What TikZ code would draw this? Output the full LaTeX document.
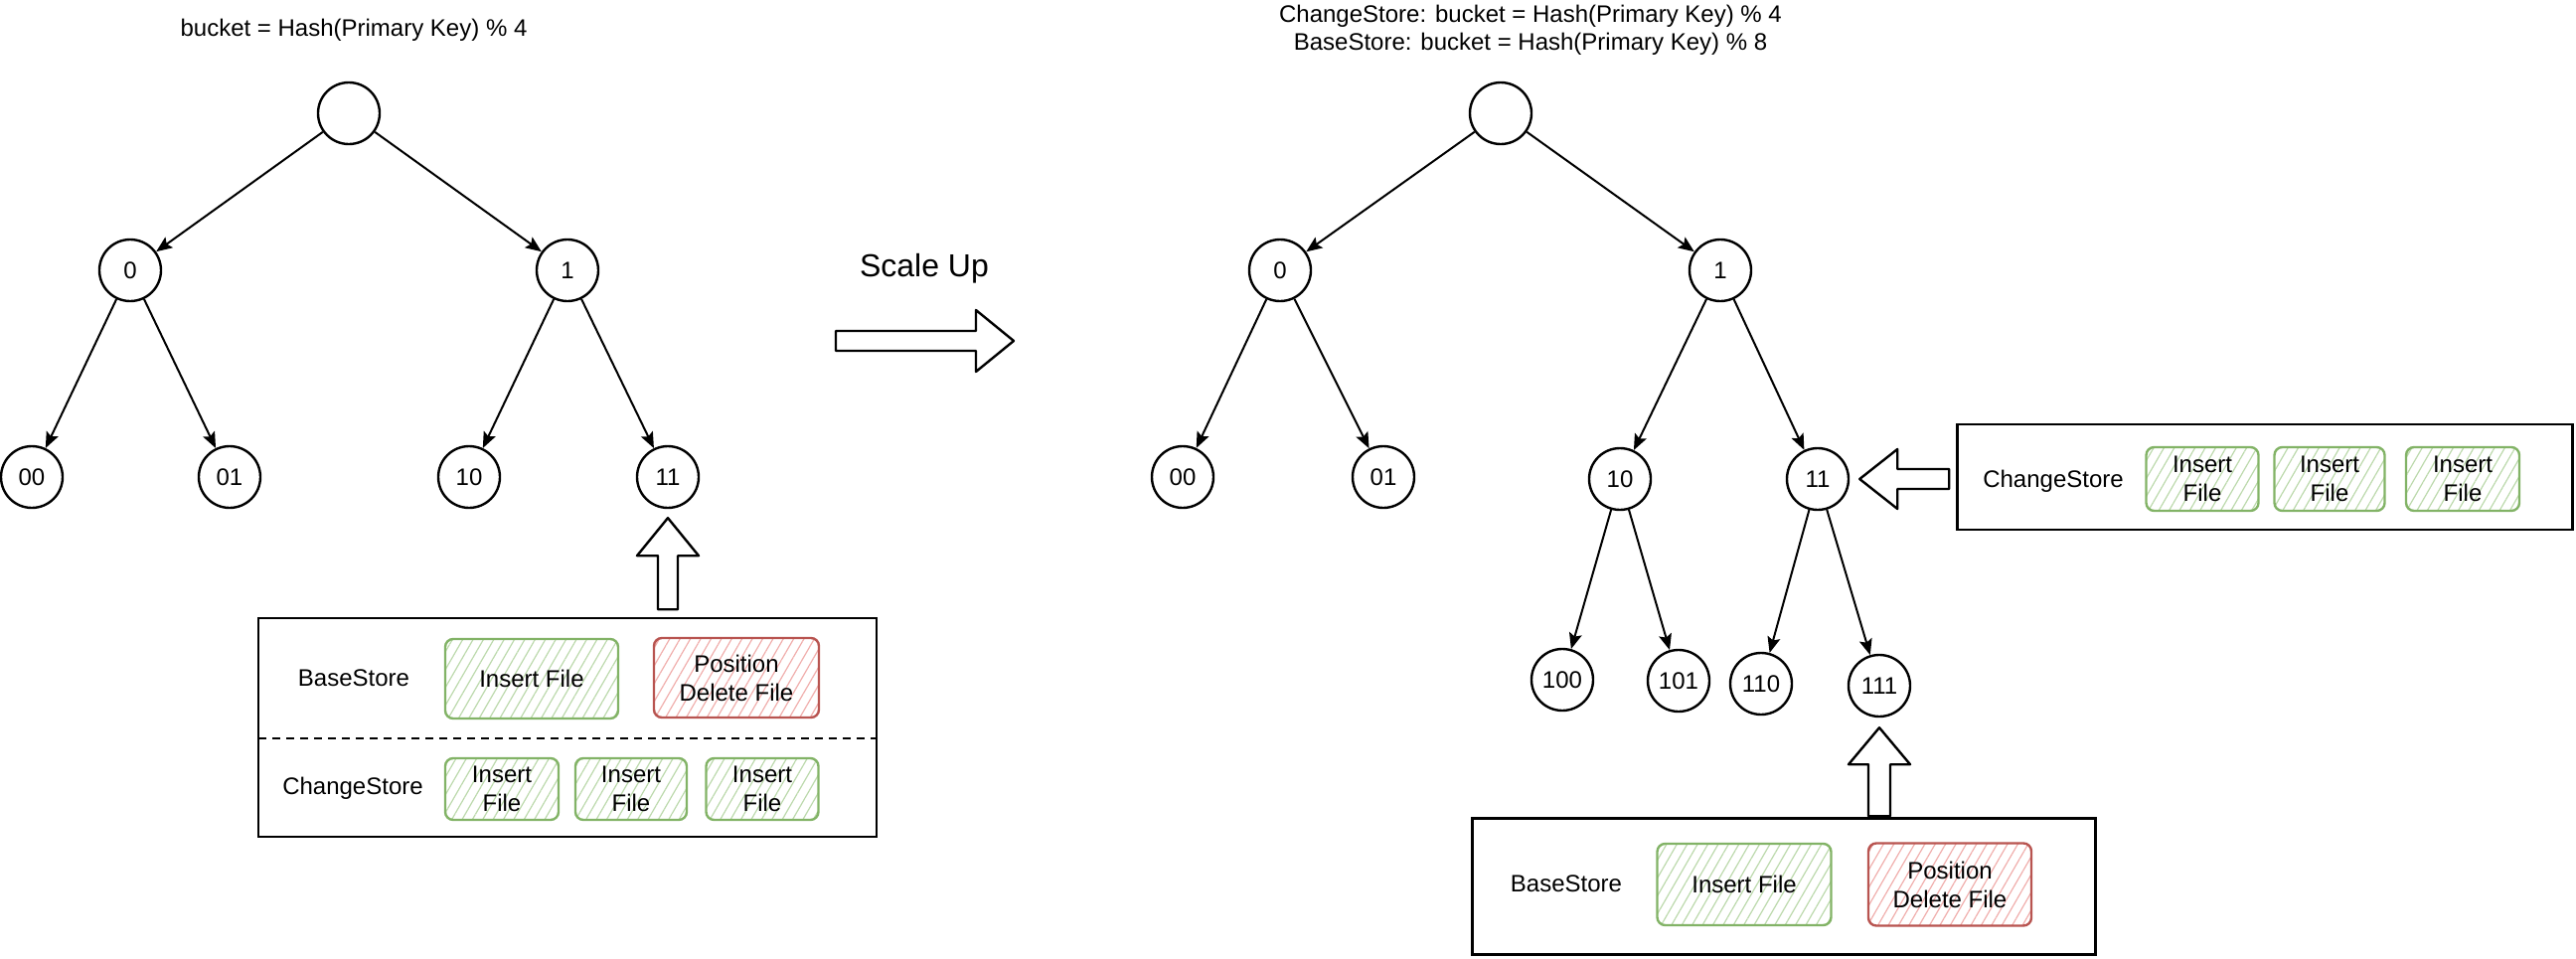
\documentclass[tikz,border=0pt]{standalone}
\usepackage{fontspec}
\setmainfont{Liberation Sans}
\usepackage{tikz}
\usetikzlibrary{arrows.meta,patterns.meta,calc}

\definecolor{insertline}{HTML}{82B366}
\definecolor{inserthatch}{HTML}{BCD9AC}
\definecolor{deleteline}{HTML}{B85450}
\definecolor{deletehatch}{HTML}{F0AEAC}

\begin{document}
\begin{tikzpicture}[x=1pt,y=-1pt,
    txt/.style={font=\fontsize{24}{28}\selectfont,align=center},
    bucket/.style={draw,circle,line width=2.4pt,minimum size=62pt,inner sep=0pt,font=\fontsize{24}{28}\selectfont},
    split/.style={line width=2pt,-{Stealth[length=16pt,width=13pt,inset=3pt]}},
    storebox/.style={draw,line width=2.4pt,inner sep=0pt},
    insertfile/.style={draw=insertline,line width=2.4pt,rounded corners=8pt,inner sep=0pt,align=center,
      font=\fontsize{24}{29}\selectfont,
      pattern={Lines[angle=60,distance=9pt,line width=1.2pt]},pattern color=inserthatch},
    deletefile/.style={insertfile,draw=deleteline,pattern color=deletehatch},
    fatarrow/.style={draw,line width=2.4pt,fill=white,line join=round}]

    \useasboundingbox (0,0) rectangle (2592,964);

    % Buckets before scale up
    \node[txt] (ltitle) at (356,30) {bucket = Hash(Primary Key) \% 4};
    \node[bucket] (lroot) at (351,114) {};
    \node[bucket] (l0) at (131,272) {0};
    \node[bucket] (l1) at (571,272) {1};
    \node[bucket] (l00) at (32,480) {00};
    \node[bucket] (l01) at (231,480) {01};
    \node[bucket] (l10) at (472,480) {10};
    \node[bucket] (l11) at (672,480) {11};
    \draw[split] (lroot) -- (l0);
    \draw[split] (lroot) -- (l1);
    \draw[split] (l0) -- (l00);
    \draw[split] (l0) -- (l01);
    \draw[split] (l1) -- (l10);
    \draw[split] (l1) -- (l11);

    % Files of bucket 11
    \draw[fatarrow] ($(l11.south)+(0,9)$) -- ++(31,38) -- ++(-21,0) -- ++(0,54)
      -- ++(-20,0) -- ++(0,-54) -- ++(-21,0) -- cycle;
    \node[storebox,minimum width=622pt,minimum height=220pt] (lbox) at (571,732) {};
    \draw[line width=2.4pt,dash pattern=on 8pt off 6pt] (260,743) -- (882,743);
    \node[txt] (lbase) at (356,682) {BaseStore};
    \node[insertfile,minimum width=174pt,minimum height=80pt] (lins) at (535,683) {Insert File};
    \node[deletefile,minimum width=166pt,minimum height=80pt] (ldel) at (741,682) {Position\\Delete File};
    \node[txt] (lchange) at (355,793) {ChangeStore};
    \node[insertfile,minimum width=114pt,minimum height=62pt] (lins1) at (505,794) {Insert\\File};
    \node[insertfile,minimum width=112pt,minimum height=62pt] (lins2) at (635,794) {Insert\\File};
    \node[insertfile,minimum width=113pt,minimum height=62pt] (lins3) at (767,794) {Insert\\File};

    % Scale up
    \node[txt,font=\fontsize{32}{38}\selectfont] (scaleup) at (930,270) {Scale Up};
    \draw[fatarrow] (1020,343) -- ++(-38,-31) -- ++(0,21) -- ++(-141,0) -- ++(0,20)
      -- ++(141,0) -- ++(0,21) -- cycle;

    % Buckets after scale up
    \node[txt] (rtitle) at (1540,30) {ChangeStore: bucket = Hash(Primary Key) \% 4\\BaseStore: bucket = Hash(Primary Key) \% 8};
    \node[bucket] (rroot) at (1510,114) {};
    \node[bucket] (r0) at (1288,272) {0};
    \node[bucket] (r1) at (1731,272) {1};
    \node[bucket] (r00) at (1190,480) {00};
    \node[bucket] (r01) at (1392,480) {01};
    \node[bucket] (r10) at (1630,482) {10};
    \node[bucket] (r11) at (1829,482) {11};
    \node[bucket] (r100) at (1572,684) {100};
    \node[bucket] (r101) at (1689,685) {101};
    \node[bucket] (r110) at (1772,688) {110};
    \node[bucket] (r111) at (1891,690) {111};
    \draw[split] (rroot) -- (r0);
    \draw[split] (rroot) -- (r1);
    \draw[split] (r0) -- (r00);
    \draw[split] (r0) -- (r01);
    \draw[split] (r1) -- (r10);
    \draw[split] (r1) -- (r11);
    \draw[split] (r10) -- (r100);
    \draw[split] (r10) -- (r101);
    \draw[split] (r11) -- (r110);
    \draw[split] (r11) -- (r111);

    % ChangeStore still in bucket 11
    \draw[fatarrow] ($(r11.east)+(10,0)$) -- ++(38,-30) -- ++(0,20) -- ++(52,0)
      -- ++(0,20) -- ++(-52,0) -- ++(0,20) -- cycle;
    \node[storebox,minimum width=619pt,minimum height=106pt] (rcbox) at (2279,480) {};
    \node[txt] (rchange) at (2066,484) {ChangeStore};
    \node[insertfile,minimum width=113pt,minimum height=64pt] (rins1) at (2216,482) {Insert\\File};
    \node[insertfile,minimum width=111pt,minimum height=64pt] (rins2) at (2344,482) {Insert\\File};
    \node[insertfile,minimum width=114pt,minimum height=64pt] (rins3) at (2478,482) {Insert\\File};

    % BaseStore moved to bucket 111
    \draw[fatarrow] ($(r111.south)+(0,10)$) -- ++(31,37) -- ++(-20,0) -- ++(0,52)
      -- ++(-22,0) -- ++(0,-52) -- ++(-20,0) -- cycle;
    \node[storebox,minimum width=627pt,minimum height=137pt] (rbbox) at (1795,892) {};
    \node[txt] (rbase) at (1576,889) {BaseStore};
    \node[insertfile,minimum width=175pt,minimum height=82pt] (rins) at (1755,890) {Insert File};
    \node[deletefile,minimum width=164pt,minimum height=83pt] (rdel) at (1962,890) {Position\\Delete File};

\end{tikzpicture}
\end{document}
